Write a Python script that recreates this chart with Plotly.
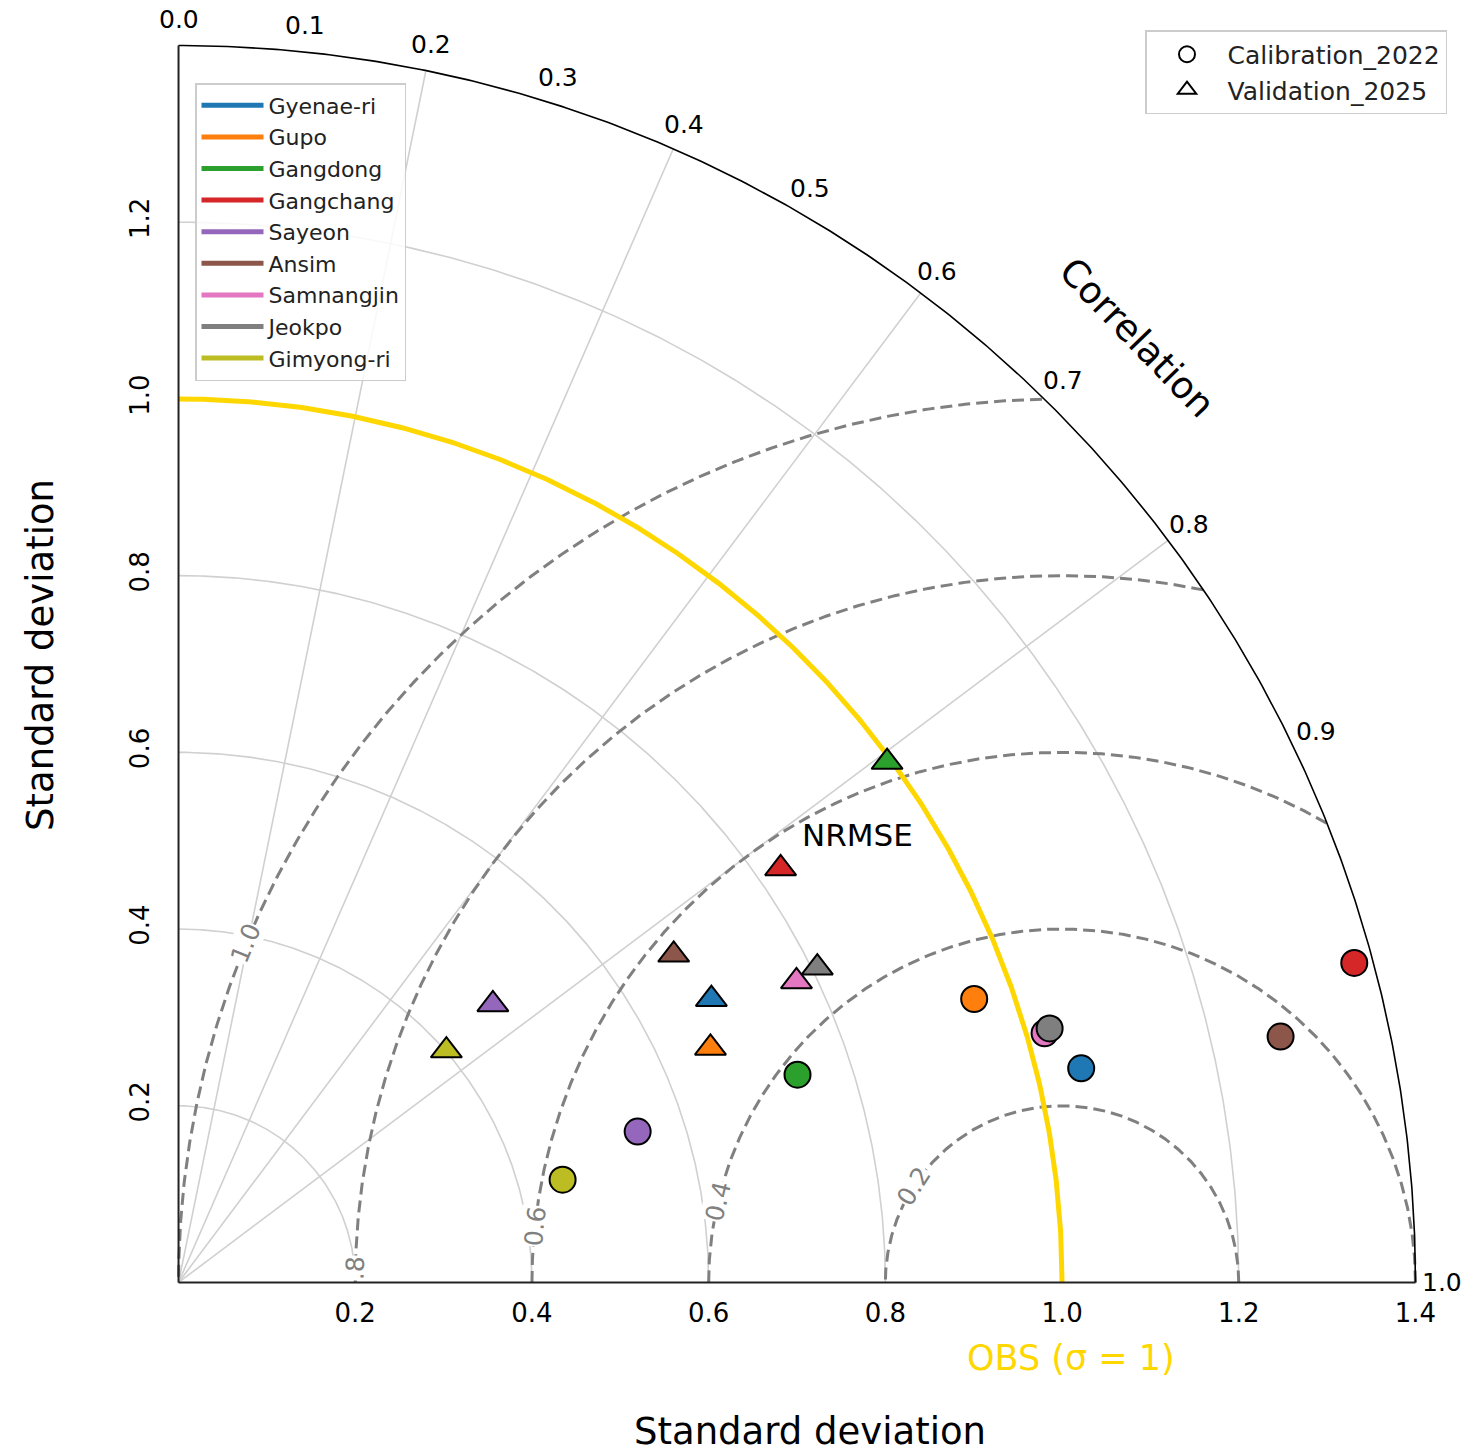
import numpy as np
import plotly.graph_objects as go

# ---------------- data ----------------
stations = ["Gyenae-ri", "Gupo", "Gangdong", "Gangchang", "Sayeon",
            "Ansim", "Samnangjin", "Jeokpo", "Gimyong-ri"]
station_colors = ["#1f77b4", "#ff7f0e", "#2ca02c", "#d62728", "#9467bd",
                  "#8c564b", "#e377c2", "#7f7f7f", "#bcbd22"]

# Calibration 2022 (normalised standard deviation, correlation)
cal_std = [1.050, 0.956, 0.739, 1.379, 0.547, 1.278, 1.020, 1.027, 0.450]
cal_corr = [0.973, 0.942, 0.948, 0.965, 0.950, 0.976, 0.961, 0.960, 0.966]
# Validation 2025
val_std = [0.683, 0.658, 0.995, 0.827, 0.475, 0.672, 0.778, 0.806, 0.401]
val_corr = [0.883, 0.915, 0.806, 0.824, 0.749, 0.834, 0.899, 0.897, 0.756]

corr_ticks = [0.0, 0.1, 0.2, 0.3, 0.4, 0.5, 0.6, 0.7, 0.8, 0.9, 1.0]
corr_grid = [0.2, 0.4, 0.6, 0.8]
x_ticks = [0.2, 0.4, 0.6, 0.8, 1.0, 1.2, 1.4]
x_ticktext = ["0.2", "0.4", "0.6", "0.8", "1.0", "1.2", "1.4"]
y_ticks = [0.2, 0.4, 0.6, 0.8, 1.0, 1.2]
y_ticktext = ["0.2", "0.4", "0.6", "0.8", "1.0", "1.2"]
std_grid = [0.2, 0.4, 0.6, 0.8, 1.2]
rmse_levels = [0.2, 0.4, 0.6, 0.8, 1.0]
rmse_label_text = ["0.2", "0.4", "0.6", ".8", "1.0"]
rmse_label_pos_deg = [147.1, 166.7, 173.9, 178.8, 157.4]
obs_std = 1.0
max_std = 1.4

FONT = "DejaVu Sans"
GRID = "#d0d0d0"
DASH = "#808080"
GOLD = "#FFD700"
RANGE = [-0.004, 1.404]

fig = go.Figure()


def polar_xy(std, corr):
    std = np.asarray(std, float)
    corr = np.asarray(corr, float)
    return std * corr, std * np.sqrt(1 - corr ** 2)


def px_(v):
    """data value -> paper fraction (square plot, same range on both axes)"""
    return (v - RANGE[0]) / (RANGE[1] - RANGE[0])


theta = np.linspace(0, np.pi / 2, 400)

# std-dev grid arcs
for s in std_grid:
    fig.add_trace(go.Scatter(x=s * np.cos(theta), y=s * np.sin(theta), mode="lines",
                             line=dict(color=GRID, width=1.6), hoverinfo="skip", showlegend=False))
# correlation rays
for c in corr_grid:
    a = np.arccos(c)
    fig.add_trace(go.Scatter(x=[0, max_std * np.cos(a)], y=[0, max_std * np.sin(a)], mode="lines",
                             line=dict(color=GRID, width=1.6), hoverinfo="skip", showlegend=False))
# RMSE circles around the reference point
phi = np.linspace(0, np.pi, 900)
for r in rmse_levels:
    x = obs_std + r * np.cos(phi)
    y = r * np.sin(phi)
    m = (x ** 2 + y ** 2 <= max_std ** 2 + 1e-9) & (x >= -1e-9)
    fig.add_trace(go.Scatter(x=x[m], y=y[m], mode="lines",
                             line=dict(color=DASH, width=3, dash="12px,6px"),
                             hoverinfo="skip", showlegend=False))
# OBS arc
fig.add_trace(go.Scatter(x=obs_std * np.cos(theta), y=obs_std * np.sin(theta), mode="lines",
                         line=dict(color=GOLD, width=5), hoverinfo="skip", showlegend=False))
# outer boundary and axes
fig.add_trace(go.Scatter(x=max_std * np.cos(theta), y=max_std * np.sin(theta), mode="lines",
                         line=dict(color="black", width=1.6), hoverinfo="skip", showlegend=False))
fig.add_trace(go.Scatter(x=[0, max_std], y=[0, 0], mode="lines",
                         line=dict(color="#222222", width=2), hoverinfo="skip", showlegend=False))
fig.add_trace(go.Scatter(x=[0, 0], y=[0, max_std], mode="lines",
                         line=dict(color="#222222", width=2), hoverinfo="skip", showlegend=False))

# data markers
cx, cy = polar_xy(cal_std, cal_corr)
fig.add_trace(go.Scatter(x=cx, y=cy, mode="markers", showlegend=False, cliponaxis=False,
                         marker=dict(symbol="circle", size=26, color=station_colors,
                                     line=dict(color="black", width=2)),
                         text=stations, hoverinfo="text"))
vx, vy = polar_xy(val_std, val_corr)
order = list(range(len(stations)))[::-1]
fig.add_trace(go.Scatter(x=vx[order], y=vy[order], mode="markers", showlegend=False, cliponaxis=False,
                         marker=dict(symbol="triangle-up", size=27,
                                     color=[station_colors[i] for i in order],
                                     line=dict(color="black", width=2)),
                         text=[stations[i] for i in order], hoverinfo="text"))

# legend entries: stations
for s, c in zip(stations, station_colors):
    fig.add_trace(go.Scatter(x=[None], y=[None], mode="lines", name=s,
                             line=dict(color=c, width=5), legend="legend"))
# legend entries: periods
fig.add_trace(go.Scatter(x=[None], y=[None], mode="markers", name="Calibration_2022", legend="legend2",
                         marker=dict(symbol="circle-open", size=16, color="black", line=dict(width=2))))
fig.add_trace(go.Scatter(x=[None], y=[None], mode="markers", name="Validation_2025", legend="legend2",
                         marker=dict(symbol="triangle-up-open", size=16, color="black", line=dict(width=2))))


def note(x, y, text, size, color="black", angle=0, **kw):
    return dict(x=px_(x), y=px_(y), xref="paper", yref="paper", text=text, showarrow=False,
                xanchor="center", yanchor="middle", textangle=angle,
                font=dict(family=FONT, size=size, color=color), **kw)


annotations = []
# correlation labels
for c in corr_ticks:
    a = np.arccos(c)
    annotations.append(note(1.43 * np.cos(a), 1.43 * np.sin(a), f"{c:.1f}", 25))
# RMSE contour labels
for r, t, d in zip(rmse_levels, rmse_label_text, rmse_label_pos_deg):
    p = np.deg2rad(d)
    annotations.append(note(obs_std + r * np.cos(p), r * np.sin(p), t, 25, DASH, 90 - d,
                            bgcolor="white", borderpad=0))
annotations += [
    note(1.523 * np.cos(np.deg2rad(44.6)), 1.523 * np.sin(np.deg2rad(44.6)), "Correlation", 37, angle=46),
    note(0.769, 0.506, "NRMSE", 31),
    note(1.01, -0.085, "OBS (σ = 1)", 35, GOLD),
    note(0.715, -0.169, "Standard deviation", 37),
    note(-0.157, 0.71, "Standard deviation", 37, angle=-90),
]

axis_common = dict(showgrid=False, zeroline=False, showline=False, ticks="outside",
                   tickcolor="rgba(0,0,0,0)", range=RANGE,
                   tickfont=dict(family=FONT, size=26, color="black"))

fig.update_layout(
    width=1473, height=1455,
    margin=dict(l=175, r=54, t=42, b=169, autoexpand=False),
    paper_bgcolor="white", plot_bgcolor="white",
    font=dict(family=FONT),
    xaxis=dict(**axis_common, tickvals=x_ticks, ticktext=x_ticktext, ticklen=4),
    yaxis=dict(**axis_common, tickvals=y_ticks, ticktext=y_ticktext, ticklen=15, tickangle=-90),
    annotations=annotations,
    legend=dict(x=(195 - 175) / 1244, y=(1286 - 83) / 1244, xanchor="left", yanchor="top",
                bgcolor="rgba(255,255,255,0.85)", bordercolor="#cccccc", borderwidth=1.5,
                font=dict(family=FONT, size=22, color="#222222"), itemwidth=62),
    legend2=dict(x=(1145 - 175) / 1244, y=(1286 - 30) / 1244, xanchor="left", yanchor="top",
                 bgcolor="rgba(255,255,255,0.85)", bordercolor="#cccccc", borderwidth=1.5,
                 font=dict(family=FONT, size=25, color="#222222"), itemwidth=71),
    showlegend=True,
)

fig.write_html("out.html")
